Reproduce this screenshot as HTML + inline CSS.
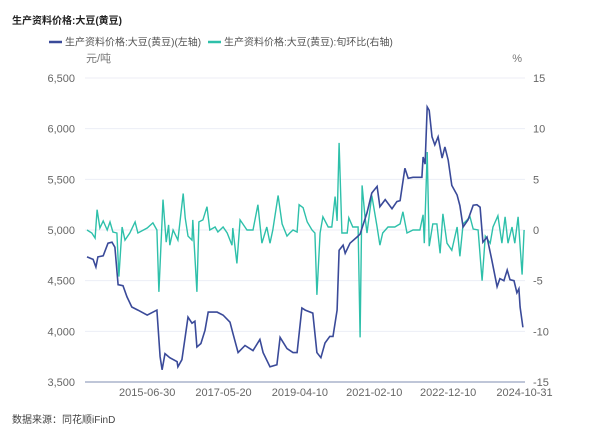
<!DOCTYPE html>
<html><head><meta charset="utf-8">
<style>
body{margin:0;background:#fff;}
svg{display:block;font-family:"Liberation Sans","Noto Sans CJK SC",sans-serif;}
</style></head>
<body>
<svg id="chart" width="600" height="439" viewBox="0 0 600 439" xmlns="http://www.w3.org/2000/svg">
  <text x="12" y="24" font-size="10" font-weight="bold" fill="#222">生产资料价格:大豆(黄豆)</text>
  <g>
    <line x1="49" y1="42" x2="62" y2="42" stroke="#3a4a99" stroke-width="2.5"/>
    <text x="65" y="45.5" font-size="10" fill="#555">生产资料价格:大豆(黄豆)(左轴)</text>
  </g>
  <g>
    <line x1="208" y1="42" x2="221" y2="42" stroke="#2ec0aa" stroke-width="2.5"/>
    <text x="224" y="45.5" font-size="10" fill="#555">生产资料价格:大豆(黄豆):旬环比(右轴)</text>
  </g>
  <text x="86" y="62" font-size="11" fill="#777">元/吨</text>
  <text x="522" y="62" font-size="11" fill="#777" text-anchor="end">%</text>
  <g id="grid"></g>
  <g id="leftTicks"></g>
  <g id="rightTicks"></g>
  <g id="xTicks"></g>
  <line x1="85" y1="382" x2="525" y2="382" stroke="#aab4cc" stroke-width="1.5"/>
  <path id="momLine" fill="none" stroke="#2ec0aa" stroke-width="1.4"/>
  <path id="priceLine" fill="none" stroke="#3a4a99" stroke-width="1.6"/>
  <text x="12" y="423" font-size="10" fill="#444">数据来源：同花顺iFinD</text>
</svg>
<script>
const leftTickValues=[3500,4000,4500,5000,5500,6000,6500];
const leftTickLabels=["3,500","4,000","4,500","5,000","5,500","6,000","6,500"];
const rightTickValues=[-15,-10,-5,0,5,10,15];
const xTickYears=[2015.49,2017.38,2019.27,2021.11,2022.94,2024.83];
const xTickLabels=["2015-06-30","2017-05-20","2019-04-10","2021-02-10","2022-12-10","2024-10-31"];
const priceYears=[2014.00,2014.15,2014.22,2014.27,2014.40,2014.52,2014.62,2014.69,2014.77,2014.89,2014.99,2015.11,2015.26,2015.49,2015.73,2015.81,2015.86,2015.93,2016.05,2016.23,2016.25,2016.35,2016.43,2016.50,2016.60,2016.67,2016.72,2016.82,2016.92,2017.00,2017.22,2017.37,2017.54,2017.61,2017.74,2017.91,2018.11,2018.28,2018.36,2018.53,2018.70,2018.78,2018.95,2019.10,2019.20,2019.32,2019.40,2019.59,2019.69,2019.79,2019.89,2020.01,2020.09,2020.19,2020.24,2020.34,2020.39,2020.51,2020.68,2020.76,2020.93,2021.05,2021.18,2021.25,2021.38,2021.55,2021.67,2021.75,2021.87,2021.95,2022.07,2022.29,2022.32,2022.37,2022.42,2022.47,2022.54,2022.61,2022.69,2022.79,2022.86,2022.94,2023.03,2023.16,2023.23,2023.31,2023.43,2023.56,2023.65,2023.73,2023.80,2023.90,2024.02,2024.15,2024.22,2024.32,2024.40,2024.47,2024.57,2024.64,2024.69,2024.72,2024.79];
const priceValues=[4735,4710,4635,4735,4745,4870,4880,4830,4460,4450,4340,4240,4210,4160,4210,3750,3620,3780,3740,3700,3650,3720,3945,4140,4080,4100,3845,3880,4010,4190,4190,4160,4090,3985,3790,3860,3810,3920,3790,3650,3670,3940,3830,3790,3790,4230,4210,4180,3790,3740,3885,3950,3950,4210,4800,4850,4770,4870,4930,4960,5170,5365,5430,5230,5300,5210,5280,5290,5610,5510,5520,5520,5720,5650,6215,6180,5920,5840,5920,5710,5820,5690,5440,5345,5240,5030,5100,5245,5250,5225,4880,4930,4705,4440,4520,4500,4605,4510,4500,4380,4420,4240,4040];
const momYears=[2014.00,2014.12,2014.20,2014.25,2014.32,2014.40,2014.50,2014.57,2014.64,2014.74,2014.79,2014.87,2014.94,2015.06,2015.19,2015.26,2015.49,2015.63,2015.73,2015.78,2015.88,2015.96,2016.02,2016.05,2016.13,2016.25,2016.38,2016.43,2016.50,2016.60,2016.62,2016.72,2016.77,2016.87,2016.97,2017.04,2017.17,2017.24,2017.37,2017.47,2017.59,2017.61,2017.71,2017.79,2017.96,2018.11,2018.23,2018.33,2018.45,2018.53,2018.60,2018.73,2018.83,2018.95,2019.02,2019.10,2019.20,2019.25,2019.35,2019.45,2019.57,2019.64,2019.69,2019.77,2019.84,2019.97,2020.06,2020.14,2020.19,2020.24,2020.31,2020.44,2020.48,2020.58,2020.71,2020.76,2020.81,2020.88,2020.93,2021.05,2021.18,2021.25,2021.32,2021.45,2021.62,2021.75,2021.82,2021.92,2022.07,2022.24,2022.32,2022.35,2022.42,2022.47,2022.56,2022.66,2022.74,2022.81,2022.91,2023.03,2023.16,2023.23,2023.31,2023.41,2023.48,2023.56,2023.68,2023.78,2023.86,2023.98,2024.05,2024.17,2024.27,2024.35,2024.42,2024.52,2024.59,2024.67,2024.77,2024.82];
const momValues=[0,-0.3,-0.8,2.0,0.2,0.9,0,0.8,-0.2,-0.3,-4.6,0.3,-1.0,-0.3,0.8,-0.3,0.2,0.7,0,-6.1,3.0,-1.2,0.5,-1.5,0,-1.0,3.6,1.2,-0.6,-1.0,1.0,-6.1,0.8,1.0,2.3,0,0.3,-0.2,0.3,-0.3,-1.5,0.2,-3.3,1.0,0,0,2.5,-1.3,0.3,-1.3,0,3.4,0.6,-0.6,-0.3,0,-0.2,2.5,2.2,0.8,0,-0.3,-6.4,-0.3,1.3,0.3,0.3,3.3,0.9,8.6,-0.3,-0.3,1.2,0.3,0.3,-10.6,4.4,1.3,-0.3,3.4,0.3,-1.5,-0.3,0.3,0.3,0.6,1.8,-0.3,0,0,1.5,-1.3,7.7,-1.6,0.6,0.6,-2.3,1.6,-1.3,-2.0,0.3,-2.6,0.6,1.0,1.3,0.1,0,-5.0,-0.6,-1.3,0.3,1.4,-1.3,1.3,-1.3,0.3,-1.3,1.3,-4.4,0];

const NS="http://www.w3.org/2000/svg";
const X0=87, PXY=40.4, YEAR0=2014.0, YTOP=78, YBOT=382;
function xScale(yr){return X0+(yr-YEAR0)*PXY;}
function yLeft(v){return YBOT-(v-3500)/(6500-3500)*(YBOT-YTOP);}
function yRight(v){return YBOT-(v+15)/30*(YBOT-YTOP);}
function mk(tag,attrs,parent){const e=document.createElementNS(NS,tag);for(const k in attrs)e.setAttribute(k,attrs[k]);parent.appendChild(e);return e;}

const grid=document.getElementById('grid');
const lt=document.getElementById('leftTicks');
const rt=document.getElementById('rightTicks');
const xt=document.getElementById('xTicks');
leftTickValues.forEach((v,i)=>{
  const y=yLeft(v);
  if(v!==3500){
    const g=mk('line',{x1:85,x2:525,y1:y,y2:y,stroke:'#eceef6','stroke-width':1},grid);
    
    
  }
  const t=mk('text',{x:75,y:y+4,'font-size':11,fill:'#666','text-anchor':'end'},lt);
  t.textContent=leftTickLabels[i];
  
  
});
rightTickValues.forEach(v=>{
  const t=mk('text',{x:533,y:yRight(v)+4,'font-size':11,fill:'#666'},rt);
  t.textContent=String(v);
  
  
});
xTickYears.forEach((yr,i)=>{
  const t=mk('text',{x:xScale(yr),y:396,'font-size':11,fill:'#666','text-anchor':'middle'},xt);
  t.textContent=xTickLabels[i];
  
  
});
function path(xs,ys,yf){return xs.map((yr,i)=>(i?'L':'M')+xScale(yr).toFixed(1)+','+yf(ys[i]).toFixed(1)).join(' ');}
const pl=document.getElementById('priceLine');
pl.setAttribute('d',path(priceYears,priceValues,yLeft));


const ml=document.getElementById('momLine');
ml.setAttribute('d',path(momYears,momValues,yRight));


</script>
</body></html>
